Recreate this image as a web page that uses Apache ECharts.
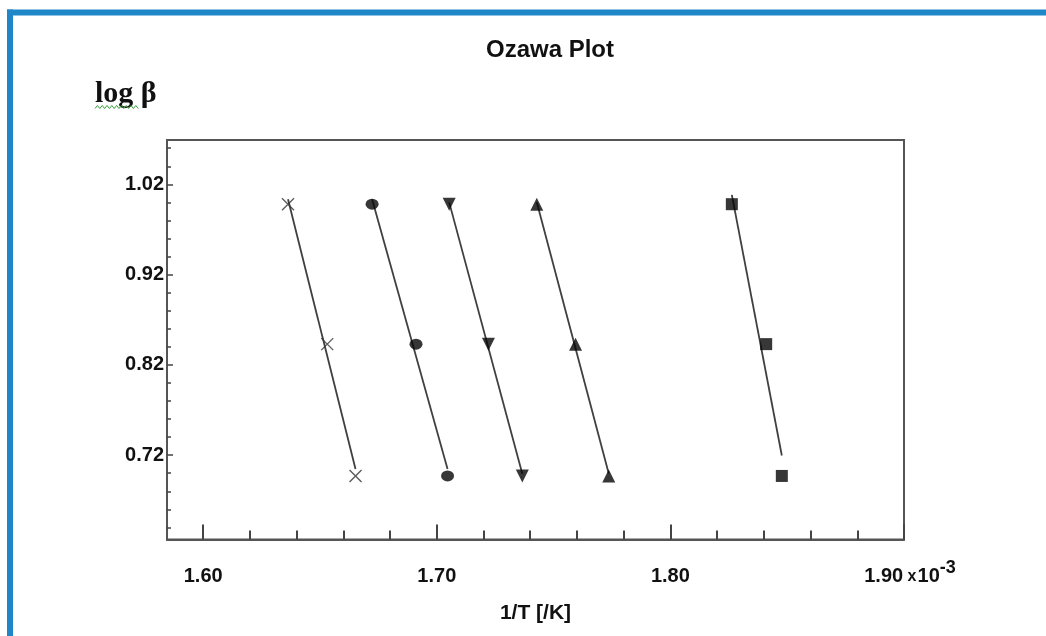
<!DOCTYPE html>
<html><head><meta charset="utf-8">
<script src="https://cdn.jsdelivr.net/npm/echarts@6/dist/echarts.min.js"></script>
<style>html,body{margin:0;padding:0;background:#fff}#c{width:1046px;height:636px}</style>
</head><body><div id="c"></div>
<script>
// log(beta) for the three heating rates
const logBeta = [0.998, 0.843, 0.697];
// 1/T values (x10^-3 /K) per series
const xCross   = [1.6363, 1.6531, 1.6652];
const xCircle  = [1.6723, 1.6911, 1.7046];
const xTriDown = [1.7053, 1.7221, 1.7366];
const xTriUp   = [1.7428, 1.7594, 1.7736];
const xSquare  = [1.8263, 1.8410, 1.8477];
// ticks
const xMajorTicks = [1.60, 1.70, 1.80, 1.90];
const xMinorTicks = [1.62, 1.64, 1.66, 1.68, 1.72, 1.74, 1.76, 1.78, 1.82, 1.84, 1.86, 1.88];
const yMajorTicks = [0.72, 0.82, 0.92, 1.02];
const yMinorTicks = [0.64, 0.66, 0.68, 0.70, 0.74, 0.76, 0.78, 0.80, 0.84, 0.86, 0.88, 0.90, 0.94, 0.96, 0.98, 1.00, 1.04, 1.06];
const xRange = [1.5845, 1.90];
const yRange = [0.6266, 1.0691];

function pts(xs, ys) { return xs.map((x, i) => [x, ys[i]]); }
function fitLine(xs, ys) {
  const n = xs.length;
  const mx = xs.reduce((a, b) => a + b, 0) / n;
  const my = ys.reduce((a, b) => a + b, 0) / n;
  let sxy = 0, sxx = 0;
  for (let i = 0; i < n; i++) { sxy += (xs[i] - mx) * (ys[i] - my); sxx += (xs[i] - mx) ** 2; }
  const k = sxy / sxx, b = my - k * mx;
  const x0 = Math.min(...xs), x1 = Math.max(...xs);
  return [[x0, b + k * x0], [x1, b + k * x1]];
}

const groups = [
  { xs: xCross, symbol: 'path://M0,0L10,10M10,0L0,10', size: 12, rotate: 0, hollow: true },
  { xs: xCircle, symbol: 'circle', size: [13, 11], rotate: 0 },
  { xs: xTriDown, symbol: 'triangle', size: 13, rotate: 180 },
  { xs: xTriUp, symbol: 'triangle', size: 13, rotate: 0 },
  { xs: xSquare, symbol: 'rect', size: 12, rotate: 0 }
];

const series = [];
groups.forEach(g => {
  series.push({
    type: 'line', data: fitLine(g.xs, logBeta), symbol: 'none', silent: true,
    lineStyle: { color: '#404040', width: 1.8 }, z: 2
  });
});
groups.forEach(g => {
  series.push({
    type: 'scatter', data: pts(g.xs, logBeta), symbol: g.symbol, symbolSize: g.size,
    symbolRotate: g.rotate, z: 3,
    itemStyle: g.hollow ? { color: 'transparent', borderColor: '#333', borderWidth: 1.4 } : { color: '#050505' }
  });
});

const FONT = 'Liberation Sans';
const base = { fontFamily: FONT, fontWeight: 'bold', color: '#111', lineHeight: 20 };
const squiggle = [];
for (let i = 0; i <= 18; i++) squiggle.push([95 + i * 2.4, i % 2 ? 105.5 : 108.5]);

const chart = echarts.init(document.getElementById('c'), null, { renderer: 'canvas' });
chart.setOption({
  backgroundColor: '#fff',
  animation: false,
  grid: { left: 167, right: 142, top: 140, bottom: 96.5, show: true, borderColor: '#555', borderWidth: 2, backgroundColor: 'transparent' },
  xAxis: [
    {
      type: 'value', min: xRange[0], max: xRange[1], position: 'bottom',
      axisLine: { show: true, lineStyle: { color: '#555', width: 2 } },
      axisTick: { show: true, inside: true, length: 15, customValues: xMajorTicks, lineStyle: { color: '#444', width: 2 } },
      axisLabel: {
        customValues: xMajorTicks, margin: 23,
        formatter: v => Math.abs(v - 1.9) < 1e-9 ? '{a|1.90}{x| x}{t|10}{c|-3}' : '{n|' + v.toFixed(2) + '}',
        rich: {
          n: Object.assign({}, base, { fontSize: 20, padding: [8, 0, 0, 0] }),
          a: Object.assign({}, base, { fontSize: 20, padding: [8, 0, 0, 12] }),
          x: Object.assign({}, base, { fontSize: 16, padding: [8, 1, 0, 0] }),
          t: Object.assign({}, base, { fontSize: 20, padding: [8, 0, 0, 0] }),
          c: Object.assign({}, base, { fontSize: 18, padding: [0, 0, 8, 0] })
        }
      },
      splitLine: { show: false },
      name: '1/T [/K]', nameLocation: 'middle', nameGap: 63,
      nameTextStyle: { color: '#111', fontFamily: FONT, fontWeight: 'bold', fontSize: 21 }
    },
    {
      type: 'value', min: xRange[0], max: xRange[1], position: 'bottom',
      axisLine: { show: false },
      axisTick: { show: true, inside: true, length: 9, customValues: xMinorTicks, lineStyle: { color: '#444', width: 2 } },
      axisLabel: { show: false }, splitLine: { show: false }
    }
  ],
  yAxis: [
    {
      type: 'value', min: yRange[0], max: yRange[1], position: 'left',
      axisLine: { show: true, lineStyle: { color: '#555', width: 2 } },
      axisTick: { show: true, inside: true, length: 6, customValues: yMajorTicks, lineStyle: { color: '#444', width: 1.5 } },
      axisLabel: { customValues: yMajorTicks, margin: 3, color: '#111', fontFamily: FONT, fontWeight: 'bold', fontSize: 20, formatter: v => v.toFixed(2) },
      splitLine: { show: false }
    },
    {
      type: 'value', min: yRange[0], max: yRange[1], position: 'left',
      axisLine: { show: false },
      axisTick: { show: true, inside: true, length: 4, customValues: yMinorTicks, lineStyle: { color: '#444', width: 1.5 } },
      axisLabel: { show: false }, splitLine: { show: false }
    }
  ],
  series: series,
  graphic: [
    { type: 'rect', shape: { x: 7, y: 9.5, width: 1039, height: 6 }, style: { fill: '#1f86c8' }, silent: true },
    { type: 'rect', shape: { x: 7, y: 9.5, width: 6, height: 627 }, style: { fill: '#1f86c8' }, silent: true },
    { type: 'text', x: 550, y: 50, style: { text: 'Ozawa Plot', fill: '#111', font: 'bold 24px "Liberation Sans"', textAlign: 'center', textVerticalAlign: 'middle' }, silent: true },
    { type: 'text', x: 95, y: 94, style: { text: 'log β', fill: '#111', font: 'bold 30px "Liberation Serif"', textAlign: 'left', textVerticalAlign: 'middle' }, silent: true },
    { type: 'polyline', shape: { points: squiggle }, style: { stroke: '#3aa03a', lineWidth: 1, fill: null }, silent: true }
  ]
});
</script>
</body></html>
